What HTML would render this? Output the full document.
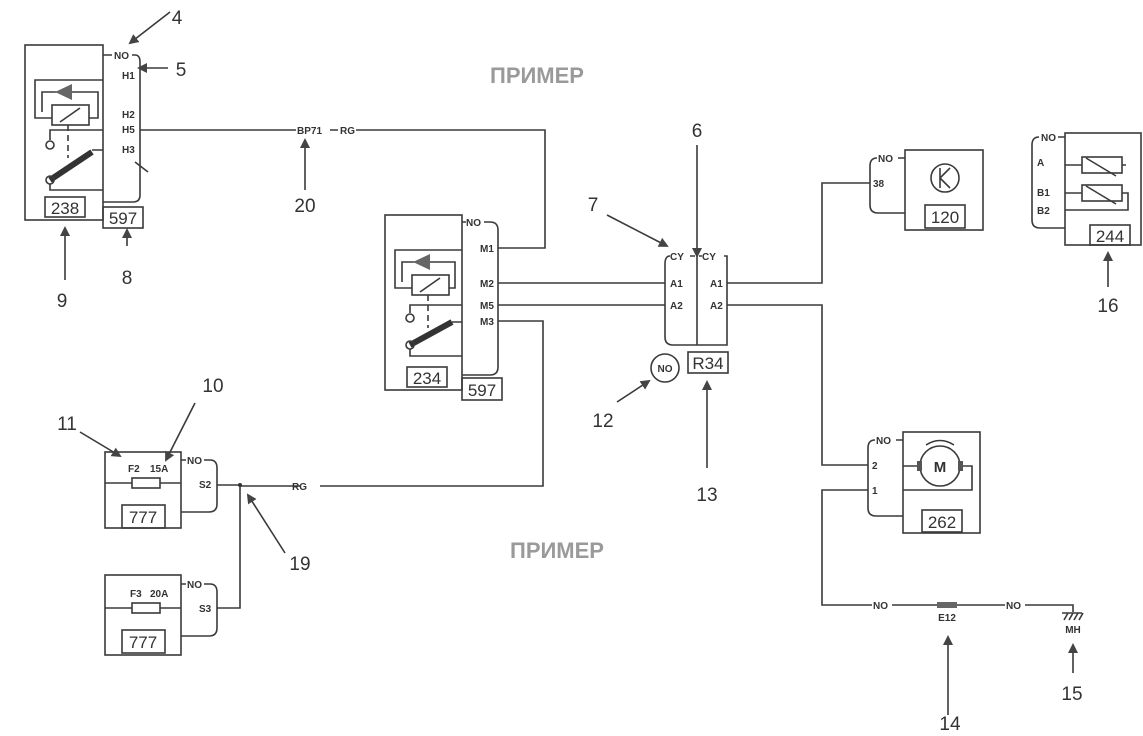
<!DOCTYPE html>
<html><head><meta charset="utf-8"><style>
html,body{margin:0;padding:0;background:#fff;}
svg{display:block;font-family:"Liberation Sans",sans-serif;}
.l{stroke:#3a3a3a;stroke-width:1.6;fill:none}
.b{font-size:10px;font-weight:bold;fill:#333}
.n{font-size:19px;fill:#333}
.bx{font-size:17px;fill:#333}
</style></head><body>
<svg width="1143" height="736" viewBox="0 0 1143 736" xmlns="http://www.w3.org/2000/svg">
<defs><marker id="a" markerWidth="10" markerHeight="10" refX="8" refY="5" orient="auto" markerUnits="userSpaceOnUse"><path d="M0,0 L10,5 L0,10 z" fill="#444"/></marker></defs>
<text x="537" y="83" text-anchor="middle" font-size="22" font-weight="bold" fill="#9a9a9a">ПРИМЕР</text>
<text x="557" y="558" text-anchor="middle" font-size="22" font-weight="bold" fill="#9a9a9a">ПРИМЕР</text>

<!-- 238 -->
<rect class="l" x="25" y="45" width="78" height="175"/>
<path class="l" d="M103,55 H112 M132,55 H135 Q140,55 140,62 V195 Q140,202 133,202 H103"/>
<text class="b" x="114" y="59">NO</text>
<text class="b" x="122" y="79">H1</text><text class="b" x="122" y="118">H2</text><text class="b" x="122" y="133">H5</text><text class="b" x="122" y="153">H3</text>
<path class="l" d="M103,80 H35 V118 H52 M89,118 H98 V92 H42 V112"/>
<path d="M55,92 L72,84 V100 z" fill="#666"/>
<rect class="l" x="52" y="105" width="37" height="20"/><path class="l" d="M60,122 L80,108"/>
<path class="l" d="M103,130 H50 V140"/><circle class="l" cx="50" cy="145" r="4"/>
<path class="l" d="M68,125 V158" stroke-dasharray="6,4"/>
<path d="M50,180 L92,152" stroke="#333" stroke-width="6"/><circle class="l" cx="50" cy="180" r="4" fill="#fff"/>
<path class="l" d="M103,150 H92 M50,184 V190 H103"/>
<rect class="l" x="45" y="197" width="40" height="20"/><text class="bx" x="65" y="214" text-anchor="middle">238</text>
<rect class="l" x="103" y="207" width="40" height="21"/><text class="bx" x="123" y="224" text-anchor="middle">597</text>
<path class="l" d="M148,172 L135,162"/>
<path class="l" d="M140,130 H296 M330,130 H338 M356,130 H545 V248 H498"/>
<text class="b" x="297" y="134">BP71</text><text class="b" x="340" y="134">RG</text>
<path class="l" d="M305,190 V140" marker-end="url(#a)"/><text class="n" x="305" y="212" text-anchor="middle">20</text>
<path class="l" d="M170,12 L130,43" marker-end="url(#a)"/><text class="n" x="177" y="24" text-anchor="middle">4</text>
<path class="l" d="M168,68 L139,68" marker-end="url(#a)"/><text class="n" x="181" y="76" text-anchor="middle">5</text>
<path class="l" d="M65,280 V228" marker-end="url(#a)"/><text class="n" x="62" y="307" text-anchor="middle">9</text>
<path class="l" d="M127,246 V230" marker-end="url(#a)"/><text class="n" x="127" y="284" text-anchor="middle">8</text>

<!-- 234 -->
<rect class="l" x="385" y="215" width="77" height="175"/>
<path class="l" d="M462,222 H466 M484,222 H490 Q498,222 498,230 V367 Q498,375 490,375 H462"/>
<text class="b" x="466" y="226">NO</text>
<text class="b" x="480" y="252">M1</text><text class="b" x="480" y="287">M2</text><text class="b" x="480" y="309">M5</text><text class="b" x="480" y="325">M3</text>
<path class="l" d="M462,250 H395 V288 H412 M449,288 H455 V262 H402 V282"/>
<path d="M413,262 L430,254 V270 z" fill="#666"/>
<rect class="l" x="412" y="275" width="37" height="20"/><path class="l" d="M420,292 L440,278"/>
<path class="l" d="M462,305 H410 V313"/><circle class="l" cx="410" cy="318" r="4"/>
<path class="l" d="M428,295 V328" stroke-dasharray="6,4"/>
<path d="M410,345 L452,322" stroke="#333" stroke-width="6"/><circle class="l" cx="410" cy="345" r="4" fill="#fff"/>
<path class="l" d="M462,322 H452 M410,349 V356 H462"/>
<rect class="l" x="407" y="367" width="40" height="20"/><text class="bx" x="427" y="384" text-anchor="middle">234</text>
<rect class="l" x="462" y="378" width="40" height="22"/><text class="bx" x="482" y="396" text-anchor="middle">597</text>
<path class="l" d="M498,283 H665 M498,305 H665 M498,321 H543 V486 H320 M300,486 H240"/>
<text class="b" x="292" y="490">RG</text>

<!-- R34 -->
<path class="l" d="M670,256 Q665,256 665,264 V337 Q665,345 673,345 H727 V256 H724 M697,256 V345"/>
<text class="b" x="670" y="260">CY</text><text class="b" x="702" y="260">CY</text>
<path class="l" d="M690,256 H695 M699,256 H702"/>
<text class="b" x="670" y="287">A1</text><text class="b" x="670" y="309">A2</text>
<text class="b" x="710" y="287">A1</text><text class="b" x="710" y="309">A2</text>
<rect class="l" x="688" y="352" width="40" height="21"/><text class="bx" x="708" y="369" text-anchor="middle">R34</text>
<circle class="l" cx="665" cy="368" r="14"/><text class="b" x="665" y="372" text-anchor="middle">NO</text>
<path class="l" d="M697,145 V256" marker-end="url(#a)"/><text class="n" x="697" y="137" text-anchor="middle">6</text>
<path class="l" d="M607,215 L667,246" marker-end="url(#a)"/><text class="n" x="593" y="211" text-anchor="middle">7</text>
<path class="l" d="M617,402 L649,381" marker-end="url(#a)"/><text class="n" x="603" y="427" text-anchor="middle">12</text>
<path class="l" d="M707,468 V382" marker-end="url(#a)"/><text class="n" x="707" y="501" text-anchor="middle">13</text>
<path class="l" d="M727,283 H822 V183 H870 M727,305 H822 V465 H868"/>

<!-- 120 -->
<rect class="l" x="905" y="150" width="78" height="80"/>
<path class="l" d="M877,158 Q870,158 870,166 V205 Q870,213 878,213 H905 M898,158 H905"/>
<text class="b" x="878" y="162">NO</text><text class="b" x="873" y="187" font-size="8">38</text>
<circle class="l" cx="945" cy="178" r="14"/><path class="l" d="M940,168 V188 M940,178 L950,168 M940,178 L950,188"/>
<rect class="l" x="925" y="205" width="40" height="23"/><text class="bx" x="945" y="223" text-anchor="middle">120</text>

<!-- 244 -->
<rect class="l" x="1065" y="133" width="76" height="112"/>
<path class="l" d="M1039,137 Q1032,137 1032,145 V220 Q1032,228 1040,228 H1065 M1058,137 H1065"/>
<text class="b" x="1041" y="141">NO</text><text class="b" x="1037" y="166">A</text><text class="b" x="1037" y="196">B1</text><text class="b" x="1037" y="214">B2</text>
<rect class="l" x="1082" y="157" width="40" height="16"/><path class="l" d="M1065,165 H1082 M1086,158 L1116,176 M1122,165 H1126"/>
<rect class="l" x="1082" y="185" width="40" height="16"/><path class="l" d="M1065,193 H1082 M1086,186 L1116,204 M1122,193 H1128 V210 H1065"/>
<rect class="l" x="1090" y="225" width="40" height="20"/><text class="bx" x="1110" y="242" text-anchor="middle">244</text>
<path class="l" d="M1108,287 V253" marker-end="url(#a)"/><text class="n" x="1108" y="312" text-anchor="middle">16</text>

<!-- 262 -->
<rect class="l" x="903" y="432" width="77" height="101"/>
<path class="l" d="M875,440 Q868,440 868,448 V508 Q868,516 876,516 H903 M896,440 H903"/>
<text class="b" x="876" y="444">NO</text><text class="b" x="872" y="469">2</text><text class="b" x="872" y="494">1</text>
<circle class="l" cx="940" cy="466" r="20"/><text x="940" y="472" text-anchor="middle" font-size="15" font-weight="bold" fill="#333">M</text>
<path class="l" d="M926,445 Q940,436 954,445"/>
<rect x="917" y="461" width="5" height="10" fill="#555"/><rect x="958" y="461" width="5" height="10" fill="#555"/>
<path class="l" d="M903,466 H917 M963,466 H972 V490 H903"/>
<rect class="l" x="922" y="510" width="40" height="22"/><text class="bx" x="942" y="528" text-anchor="middle">262</text>
<path class="l" d="M868,490 H822 V605 H872 M892,605 H937 M957,605 H1005 M1025,605 H1073 V612"/>
<text class="b" x="873" y="609">NO</text><text class="b" x="1006" y="609">NO</text>
<rect x="937" y="602" width="20" height="6" fill="#666"/><text class="b" x="947" y="621" text-anchor="middle">E12</text>
<path class="l" d="M1062,613 H1082 M1064,620 L1068,613 M1069,620 L1073,613 M1074,620 L1078,613 M1079,620 L1083,613"/>
<text class="b" x="1073" y="633" text-anchor="middle" font-size="8">MH</text>
<path class="l" d="M948,715 V637" marker-end="url(#a)"/><text class="n" x="950" y="730" text-anchor="middle">14</text>
<path class="l" d="M1073,673 V645" marker-end="url(#a)"/><text class="n" x="1072" y="700" text-anchor="middle">15</text>

<!-- fuses -->
<rect class="l" x="105" y="452" width="76" height="76"/>
<path class="l" d="M105,483 H132 M160,483 H181"/><rect class="l" x="132" y="478" width="28" height="10"/>
<text class="b" x="128" y="472">F2</text><text class="b" x="150" y="472">15A</text>
<rect class="l" x="122" y="505" width="43" height="23"/><text class="bx" x="143" y="523" text-anchor="middle">777</text>
<path class="l" d="M181,460 H186 M204,460 H210 Q217,460 217,468 V504 Q217,512 209,512 H181"/>
<text class="b" x="187" y="464">NO</text><text class="b" x="199" y="488">S2</text>
<path class="l" d="M217,485 H240 M240,485 V608 H217"/><circle cx="240" cy="485" r="2" fill="#333"/>
<rect class="l" x="105" y="575" width="76" height="80"/>
<path class="l" d="M105,608 H132 M160,608 H181"/><rect class="l" x="132" y="603" width="28" height="10"/>
<text class="b" x="130" y="597">F3</text><text class="b" x="150" y="597">20A</text>
<rect class="l" x="122" y="630" width="43" height="23"/><text class="bx" x="143" y="648" text-anchor="middle">777</text>
<path class="l" d="M181,584 H186 M204,584 H210 Q217,584 217,592 V628 Q217,636 209,636 H181"/>
<text class="b" x="187" y="588">NO</text><text class="b" x="199" y="612">S3</text>
<path class="l" d="M80,432 L120,456" marker-end="url(#a)"/><text class="n" x="67" y="430" text-anchor="middle">11</text>
<path class="l" d="M195,403 L166,460" marker-end="url(#a)"/><text class="n" x="213" y="392" text-anchor="middle">10</text>
<path class="l" d="M285,553 L248,495" marker-end="url(#a)"/><text class="n" x="300" y="570" text-anchor="middle">19</text>
</svg>
</body></html>
